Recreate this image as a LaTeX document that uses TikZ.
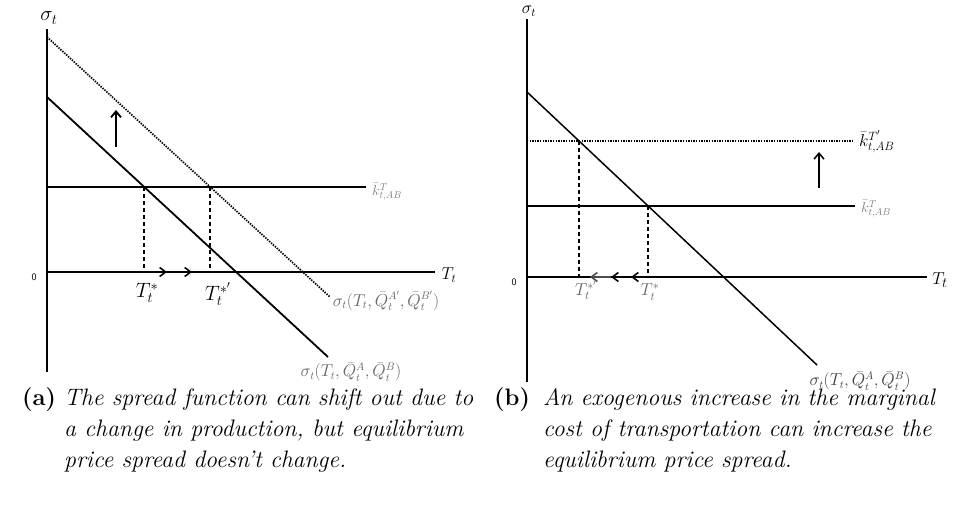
\documentclass[tikz,border=0pt]{standalone}
\usetikzlibrary{arrows.meta}
\begin{document}
\begin{tikzpicture}[x=1pt,y=-1pt,
  axis/.style={line width=1.6pt},
  curve/.style={line width=1.8pt},
  dotline/.style={line width=1.7pt, dash pattern=on 1.4pt off 1.2pt},
  dashline/.style={line width=1.4pt, dash pattern=on 4pt off 3pt},
  uparrow/.style={line width=1.8pt,-{Straight Barb[length=6pt,width=10pt]}},
  midtip/.style={line width=1.6pt,-{Straight Barb[length=6pt,width=9pt]}},
  lbl/.style={inner sep=0pt, font=\fontsize{16}{18}\selectfont},
  glbl/.style={lbl, text=black!60},
  klbl/.style={inner sep=0pt, text=black!50, font=\fontsize{14}{16}\selectfont},
  zero/.style={inner sep=0pt, font=\sffamily\fontsize{10}{11}\selectfont},
  captext/.style={inner sep=0pt, anchor=base west, font=\fontsize{23.8}{30}\selectfont\itshape},
  capbold/.style={inner sep=0pt, anchor=base west, font=\fontsize{23.8}{30}\selectfont\bfseries},
]
\useasboundingbox (0,0) rectangle (957,510);

% ---------- left panel ----------
\coordinate (L-yt) at (47,29);
\coordinate (L-yb) at (47,372);
\coordinate (L-O) at (47,272);
\coordinate (L-xe) at (435,272);
\coordinate (L-ds) at (47,37);
\coordinate (L-de) at (330,297);
\coordinate (L-ss) at (47,97);
\coordinate (L-se) at (328,357);
\coordinate (L-ks) at (47,187);
\coordinate (L-ke) at (366,187);
\coordinate (L-p1) at (144,187);
\coordinate (L-p2) at (210,187);
\coordinate (L-b1) at (144,272);
\coordinate (L-b2) at (210,272);
\coordinate (L-m1) at (167,272);
\coordinate (L-m2) at (192,272);
\coordinate (L-as) at (116,147);
\coordinate (L-ae) at (116,110);

\draw[axis] (L-yt) -- (L-yb);
\draw[axis] (L-O) -- (L-xe);
\draw[axis] (L-ks) -- (L-ke);
\draw[dotline] (L-ds) -- (L-de);
\draw[curve] (L-ss) -- (L-se);
\draw[dashline] (L-p1) -- (L-b1);
\draw[dashline] (L-p2) -- (L-b2);
\draw[midtip] (L-b1) -- (L-m1);
\draw[midtip] (L-m1) -- (L-m2);
\draw[uparrow] (L-as) -- (L-ae);

\node[inner sep=0pt, font=\fontsize{22}{24}\selectfont] (L-sig) at (49,18) {$\sigma_t$};
\node[zero] (L-zero) at (34,277) {0};
\node[inner sep=0pt, font=\fontsize{18}{20}\selectfont] (L-T) at (449,275) {$T_t$};
\node[klbl, anchor=west] (L-k) at (372,192) {$\bar{k}^{T}_{t,AB}$};
\node[inner sep=0pt, font=\fontsize{21}{23}\selectfont] (L-ts1) at (147,293) {$T_t^{*}$};
\node[inner sep=0pt, font=\fontsize{21}{23}\selectfont] (L-ts2) at (218,294) {$T_t^{*'}$};
\node[glbl] (L-f2) at (386,301) {$\sigma_t(T_t,\bar{Q}_t^{A'},\bar{Q}_t^{B'})$};
\node[glbl] (L-f1) at (351,372) {$\sigma_t(T_t,\bar{Q}_t^{A},\bar{Q}_t^{B})$};

% ---------- right panel ----------
\coordinate (R-yt) at (527,19);
\coordinate (R-yb) at (527,382);
\coordinate (R-O) at (527,277);
\coordinate (R-xe) at (927,277);
\coordinate (R-ss) at (527,92);
\coordinate (R-se) at (817,365);
\coordinate (R-k2s) at (527,141);
\coordinate (R-k2e) at (853,141);
\coordinate (R-ks) at (527,206);
\coordinate (R-ke) at (855,206);
\coordinate (R-p1) at (579,141);
\coordinate (R-b1) at (579,277);
\coordinate (R-p2) at (648,206);
\coordinate (R-b2) at (648,277);
\coordinate (R-m3) at (631,277);
\coordinate (R-m2) at (611,277);
\coordinate (R-m1) at (590,277);
\coordinate (R-as) at (819,188);
\coordinate (R-ae) at (819,152);

\draw[line width=1.3pt] (R-yt) -- (R-yb);
\draw[line width=1.4pt] (R-O) -- (R-xe);
\draw[line width=1.4pt] (R-ks) -- (R-ke);
\draw[dotline, line width=1.5pt] (R-k2s) -- (R-k2e);
\draw[line width=1.5pt] (R-ss) -- (R-se);
\draw[dashline, line width=1.2pt] (R-p1) -- (R-b1);
\draw[dashline, line width=1.2pt] (R-p2) -- (R-b2);
\draw[midtip] (R-b2) -- (R-m3);
\draw[midtip] (R-m3) -- (R-m2);
\draw[midtip, draw=black!70] (R-m2) -- (R-m1);
\draw[uparrow, line width=1.5pt] (R-as) -- (R-ae);

\node[inner sep=0pt, font=\fontsize{17}{19}\selectfont] (R-sig) at (529,11) {$\sigma_t$};
\node[zero] (R-zero) at (514,282) {0};
\node[inner sep=0pt, font=\fontsize{19}{21}\selectfont] (R-T) at (940,280) {$T_t$};
\node[inner sep=0pt, font=\fontsize{18}{20}\selectfont, anchor=west] (R-k2) at (859,142) {$\bar{k}^{T'}_{t,AB}$};
\node[klbl, anchor=west] (R-k) at (861,209) {$\bar{k}^{T}_{t,AB}$};
\node[glbl, font=\fontsize{18}{20}\selectfont] (R-ts2) at (586,290) {$T_t^{*'}$};
\node[glbl, font=\fontsize{18}{20}\selectfont] (R-ts1) at (650,292) {$T_t^{*}$};
\node[glbl, text=black!75] (R-f1) at (860,381) {$\sigma_t(T_t,\bar{Q}_t^{A},\bar{Q}_t^{B})$};

% ---------- captions ----------
\node[capbold] (ca) at (22,405) {(a)};
\node[captext] (ca1) at (64,405) {The spread function can shift out due to};
\node[captext] (ca2) at (64,436) {a change in production, but equilibrium};
\node[captext] (ca3) at (64,467) {price spread doesn't change.};
\node[capbold] (cb) at (494,405) {(b)};
\node[captext] (cb1) at (543,405) {An exogenous increase in the marginal};
\node[captext] (cb2) at (543,436) {cost of transportation can increase the};
\node[captext] (cb3) at (543,467) {equilibrium price spread.};
\end{tikzpicture}
\end{document}
